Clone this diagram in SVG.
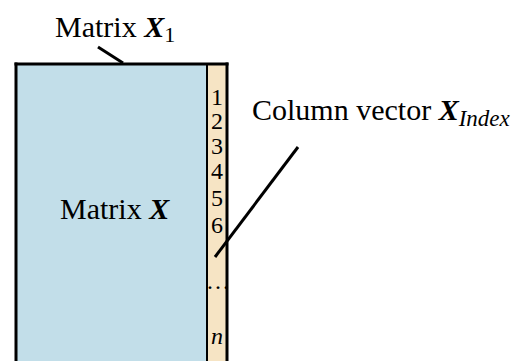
<svg xmlns="http://www.w3.org/2000/svg" width="520" height="361" viewBox="0 0 520 361">
<style>
text{font-family:"Liberation Serif","Times New Roman",serif;fill:#000}
.lbl{font-size:30px}
.num{font-size:24px}
.bi{font-weight:bold;font-style:italic}
.it{font-style:italic}
.ln{stroke:#000;fill:none}
</style>
<rect width="520" height="361" fill="#fff"/>
<g id="matrix">
<rect x="16" y="64" width="191" height="300" fill="#c2dee9"/>
<text class="lbl" x="60" y="219">Matrix <tspan class="bi">X</tspan></text>
</g>
<g id="column">
<rect x="207" y="64" width="20" height="300" fill="#f6e4c4"/>
<text class="num" text-anchor="middle" x="217" y="105">1</text>
<text class="num" text-anchor="middle" x="217" y="129">2</text>
<text class="num" text-anchor="middle" x="217" y="154">3</text>
<text class="num" text-anchor="middle" x="217" y="179">4</text>
<text class="num" text-anchor="middle" x="217" y="206">5</text>
<text class="num" text-anchor="middle" x="217" y="233">6</text>
<text class="num" text-anchor="middle" x="218" y="289">…</text>
<text class="num it" text-anchor="middle" x="217" y="344">n</text>
</g>
<g id="borders">
<line class="ln" x1="16" y1="62.5" x2="16" y2="361" stroke-width="3"/>
<line class="ln" x1="14.5" y1="64" x2="228.5" y2="64" stroke-width="3"/>
<line class="ln" x1="207" y1="64" x2="207" y2="361" stroke-width="2"/>
<line class="ln" x1="227" y1="62.5" x2="227" y2="361" stroke-width="3"/>
</g>
<g id="label-x1">
<text class="lbl" x="55" y="37">Matrix <tspan class="bi">X</tspan><tspan font-size="22" dy="5">1</tspan></text>
</g>
<g id="label-index">
<text class="lbl" x="252" y="120">Column vector <tspan class="bi">X</tspan><tspan class="it" font-size="23" dy="6">Index</tspan></text>
</g>
<g id="connectors">
<line class="ln" x1="98" y1="47" x2="123" y2="63" stroke-width="3"/>
<line class="ln" x1="298" y1="147" x2="215" y2="257" stroke-width="3"/>
</g>
</svg>
